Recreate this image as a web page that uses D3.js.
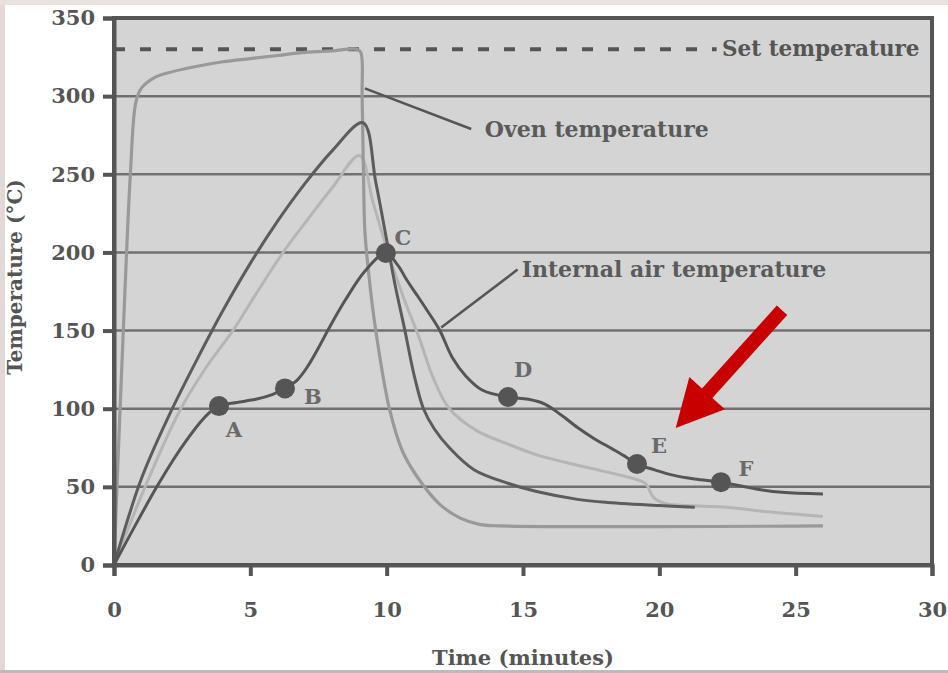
<!DOCTYPE html>
<html>
<head>
<meta charset="utf-8">
<script src="https://cdn.jsdelivr.net/npm/d3@7"></script>
<style>
  body { margin: 0; background: #fff; }
  svg { display: block; }
  text { font-family: "DejaVu Serif", "Liberation Serif", serif; font-weight: bold; }
</style>
</head>
<body>
<div id="chart"></div>
<script>
// Oven temperature (medium gray)
var ovenTime = [0, 0.2, 0.4, 0.6, 0.8, 1.0, 1.5, 2, 3, 4, 5, 6, 7, 8, 8.9, 9.05, 9.1, 9.15, 9.2, 9.35, 9.6, 10.1, 10.6, 11.3, 12, 12.7, 13.4, 14.2, 26];
var ovenTemp = [0, 90, 175, 250, 296, 305, 312, 315, 319, 322, 324, 326, 328, 329, 330, 328, 300, 250, 214, 185, 150, 100, 72, 52, 38, 30, 26, 25, 25];

// dark gray curve
var darkTime = [0, 1, 2, 3, 4, 5, 6, 7, 8, 9.13, 9.6, 10.0, 10.3, 10.67, 11.0, 11.35, 11.75, 12.3, 13.2, 14.5, 15.5, 17, 18.1, 20, 21.3];
var darkTemp = [0, 55, 95, 130, 163, 193, 220, 244, 265, 283, 245, 208, 180, 150, 122, 100, 87, 75, 61, 52, 47, 42, 40, 38, 37];

// light gray curve
var lightTime = [0, 1.14, 2.42, 3.4, 4.36, 5.3, 6.2, 7.1, 8.03, 9.0, 9.5, 10.05, 10.6, 11.2, 11.7, 12.3, 13.3, 14.5, 15.6, 17.2, 19.1, 19.5, 19.8, 20.3, 21, 22.5, 24, 26];
var lightTemp = [0, 50, 99, 127, 150, 176, 200, 221, 242, 262, 232, 200, 172, 145, 120, 100, 86, 77, 70, 63, 55, 52, 43, 39, 38, 37, 34, 31];

// Internal air temperature
var airTime = [0, 0.8, 1.57, 2.2, 2.67, 3.15, 3.5, 3.85, 4.5, 5.2, 5.8, 6.27, 6.7, 7.1, 7.5, 7.9, 8.5, 9.2, 9.97, 10.4, 10.75, 11.1, 11.48, 11.95, 12.4, 12.9, 13.5, 14.45, 15.2, 15.8, 16.4, 17, 17.6, 18.2, 18.7, 19.18, 19.8, 20.5, 21.3, 22.26, 23, 23.6, 24.5, 26];
var airTemp = [0, 26, 50, 68, 80, 91, 97.5, 101.7, 104, 106, 109, 113, 118, 127, 139, 152, 170, 188, 199.6, 192, 182, 173, 163, 150, 133, 121, 112, 107.5, 106, 103, 96, 88, 81, 75, 70, 64.6, 61, 57.5, 55, 53, 50.5, 48.5, 46.5, 45.5];

// marked points on the internal air curve
var pointLabels = ["A", "B", "C", "D", "E", "F"];
var pointTime = [3.85, 6.27, 9.97, 14.45, 19.18, 22.26];
var pointTemp = [101.7, 113, 199.6, 107.5, 64.6, 53];

var setTemp = 330;
var setEnd = 22.1;

var xTicks = [0, 5, 10, 15, 20, 25, 30];
var yTicks = [0, 50, 100, 150, 200, 250, 300, 350];

var W = 948, H = 673;
var margin = {top: 18, right: 16, bottom: 108, left: 114};
var width = W - margin.left - margin.right,
    height = H - margin.top - margin.bottom;

var x = d3.scaleLinear().domain([0, 30]).range([0, width]);
var y = d3.scaleLinear().domain([0, 350]).range([height, 0]);

var svg = d3.select("#chart").append("svg")
    .attr("width", W)
    .attr("height", H);

// photo edge
svg.append("rect").attr("x", 0).attr("y", 0).attr("width", W).attr("height", H)
    .attr("fill", "#fff");
svg.append("rect").attr("x", 0).attr("y", 0).attr("width", 5).attr("height", H).attr("fill", "#e2d8d8");
svg.append("rect").attr("x", 0).attr("y", 0).attr("width", W).attr("height", 5).attr("fill", "#e9e2de");
svg.append("rect").attr("x", 0).attr("y", H - 3).attr("width", W).attr("height", 3).attr("fill", "#bbb");

var g = svg.append("g")
    .attr("transform", "translate(" + margin.left + "," + margin.top + ")");

// plot background
g.append("rect")
    .attr("width", width)
    .attr("height", height)
    .attr("fill", "#d4d4d4");

// gridlines
g.selectAll(".grid")
    .data(yTicks.slice(1, -1))
  .enter().append("line")
    .attr("x1", 0).attr("x2", width)
    .attr("y1", function(d) { return y(d); })
    .attr("y2", function(d) { return y(d); })
    .attr("stroke", "#707070")
    .attr("stroke-width", 2.5);

// set temperature dashed line
g.append("line")
    .attr("x1", x(0)).attr("x2", x(setEnd))
    .attr("y1", y(setTemp)).attr("y2", y(setTemp))
    .attr("stroke", "#555")
    .attr("stroke-width", 4)
    .attr("stroke-dasharray", "11,15");

g.append("text")
    .attr("x", x(22.3))
    .attr("y", y(setTemp) + 7)
    .attr("font-size", 21.5)
    .attr("fill", "#555")
    .text("Set temperature");

var line = d3.line()
    .x(function(d) { return x(d[0]); })
    .y(function(d) { return y(d[1]); })
    .curve(d3.curveCatmullRom.alpha(0.5));

function pairs(t, v) { return t.map(function(d, i) { return [d, v[i]]; }); }

g.append("path").datum(pairs(lightTime, lightTemp))
    .attr("d", line).attr("fill", "none")
    .attr("stroke", "#b5b5b5").attr("stroke-width", 3);

g.append("path").datum(pairs(ovenTime, ovenTemp))
    .attr("d", line).attr("fill", "none")
    .attr("stroke", "#999").attr("stroke-width", 3.2);

g.append("path").datum(pairs(darkTime, darkTemp))
    .attr("d", line).attr("fill", "none")
    .attr("stroke", "#5c5c5c").attr("stroke-width", 3);

g.append("path").datum(pairs(airTime, airTemp))
    .attr("d", line).attr("fill", "none")
    .attr("stroke", "#555").attr("stroke-width", 3);

// leader lines for annotations
g.append("line")
    .attr("x1", x(9.2)).attr("y1", y(305))
    .attr("x2", x(13.1)).attr("y2", y(279))
    .attr("stroke", "#555").attr("stroke-width", 2.5);
g.append("text")
    .attr("x", x(13.6)).attr("y", y(279) + 8)
    .attr("font-size", 22)
    .attr("fill", "#5a5a5a")
    .text("Oven temperature");

g.append("line")
    .attr("x1", x(12.0)).attr("y1", y(152))
    .attr("x2", x(14.8)).attr("y2", y(189))
    .attr("stroke", "#555").attr("stroke-width", 2.5);
g.append("text")
    .attr("x", x(14.95)).attr("y", y(189) + 7)
    .attr("font-size", 22)
    .attr("fill", "#5a5a5a")
    .text("Internal air temperature");

// marked points
var pts = pointLabels.map(function(d, i) { return {label: d, t: pointTime[i], v: pointTemp[i]}; });
var labelOffset = {A: [15, 24], B: [28, 8], C: [17, -15], D: [15, -27], E: [22, -18], F: [25, -14]};

g.selectAll(".pt")
    .data(pts)
  .enter().append("circle")
    .attr("cx", function(d) { return x(d.t); })
    .attr("cy", function(d) { return y(d.v); })
    .attr("r", 10)
    .attr("fill", "#555");

g.selectAll(".ptlabel")
    .data(pts)
  .enter().append("text")
    .attr("x", function(d) { return x(d.t) + labelOffset[d.label][0]; })
    .attr("y", function(d) { return y(d.v) + labelOffset[d.label][1]; })
    .attr("text-anchor", "middle")
    .attr("dy", "0.35em")
    .attr("font-size", 21)
    .attr("fill", "#6a6a6a")
    .text(function(d) { return d.label; });

// frame
g.append("rect")
    .attr("width", width).attr("height", height)
    .attr("fill", "none").attr("stroke", "#555").attr("stroke-width", 4);

// axes
var xAxis = g.append("g")
    .attr("transform", "translate(0," + height + ")")
    .call(d3.axisBottom(x).tickValues(xTicks).tickSize(11).tickPadding(26));
var yAxis = g.append("g")
    .call(d3.axisLeft(y).tickValues(yTicks).tickSize(11).tickPadding(8));

[xAxis, yAxis].forEach(function(a) {
  a.select(".domain").attr("stroke", "#555").attr("stroke-width", 4);
  a.selectAll(".tick line").attr("stroke", "#555").attr("stroke-width", 4);
  a.selectAll(".tick text")
    .attr("font-size", 21)
    .attr("font-family", "DejaVu Serif")
    .attr("font-weight", "bold")
    .attr("fill", "#555");
});

// axis titles
svg.append("text")
    .attr("transform", "translate(22,277) rotate(-90)")
    .attr("text-anchor", "middle")
    .attr("font-size", 20)
    .attr("fill", "#555")
    .text("Temperature (°C)");

svg.append("text")
    .attr("x", margin.left + x(15))
    .attr("y", 665)
    .attr("text-anchor", "middle")
    .attr("font-size", 21)
    .attr("fill", "#555")
    .text("Time (minutes)");

// red arrow
var tail = [x(24.5), y(163)], tip = [x(20.6), y(87.6)];
var dx = tip[0] - tail[0], dy = tip[1] - tail[1];
var len = Math.sqrt(dx * dx + dy * dy);
var ux = dx / len, uy = dy / len, px = -uy, py = ux;
var headLen = 47, headHalf = 24, shaftHalf = 7;
var bx = tip[0] - ux * headLen, by = tip[1] - uy * headLen;
var arrow = [
  [tail[0] + px * shaftHalf, tail[1] + py * shaftHalf],
  [bx + px * shaftHalf, by + py * shaftHalf],
  [bx + px * headHalf, by + py * headHalf],
  tip,
  [bx - px * headHalf, by - py * headHalf],
  [bx - px * shaftHalf, by - py * shaftHalf],
  [tail[0] - px * shaftHalf, tail[1] - py * shaftHalf]
];
g.append("path")
    .attr("d", "M" + arrow.map(function(p) { return p.join(","); }).join("L") + "Z")
    .attr("fill", "#c80000");
</script>
</body>
</html>
